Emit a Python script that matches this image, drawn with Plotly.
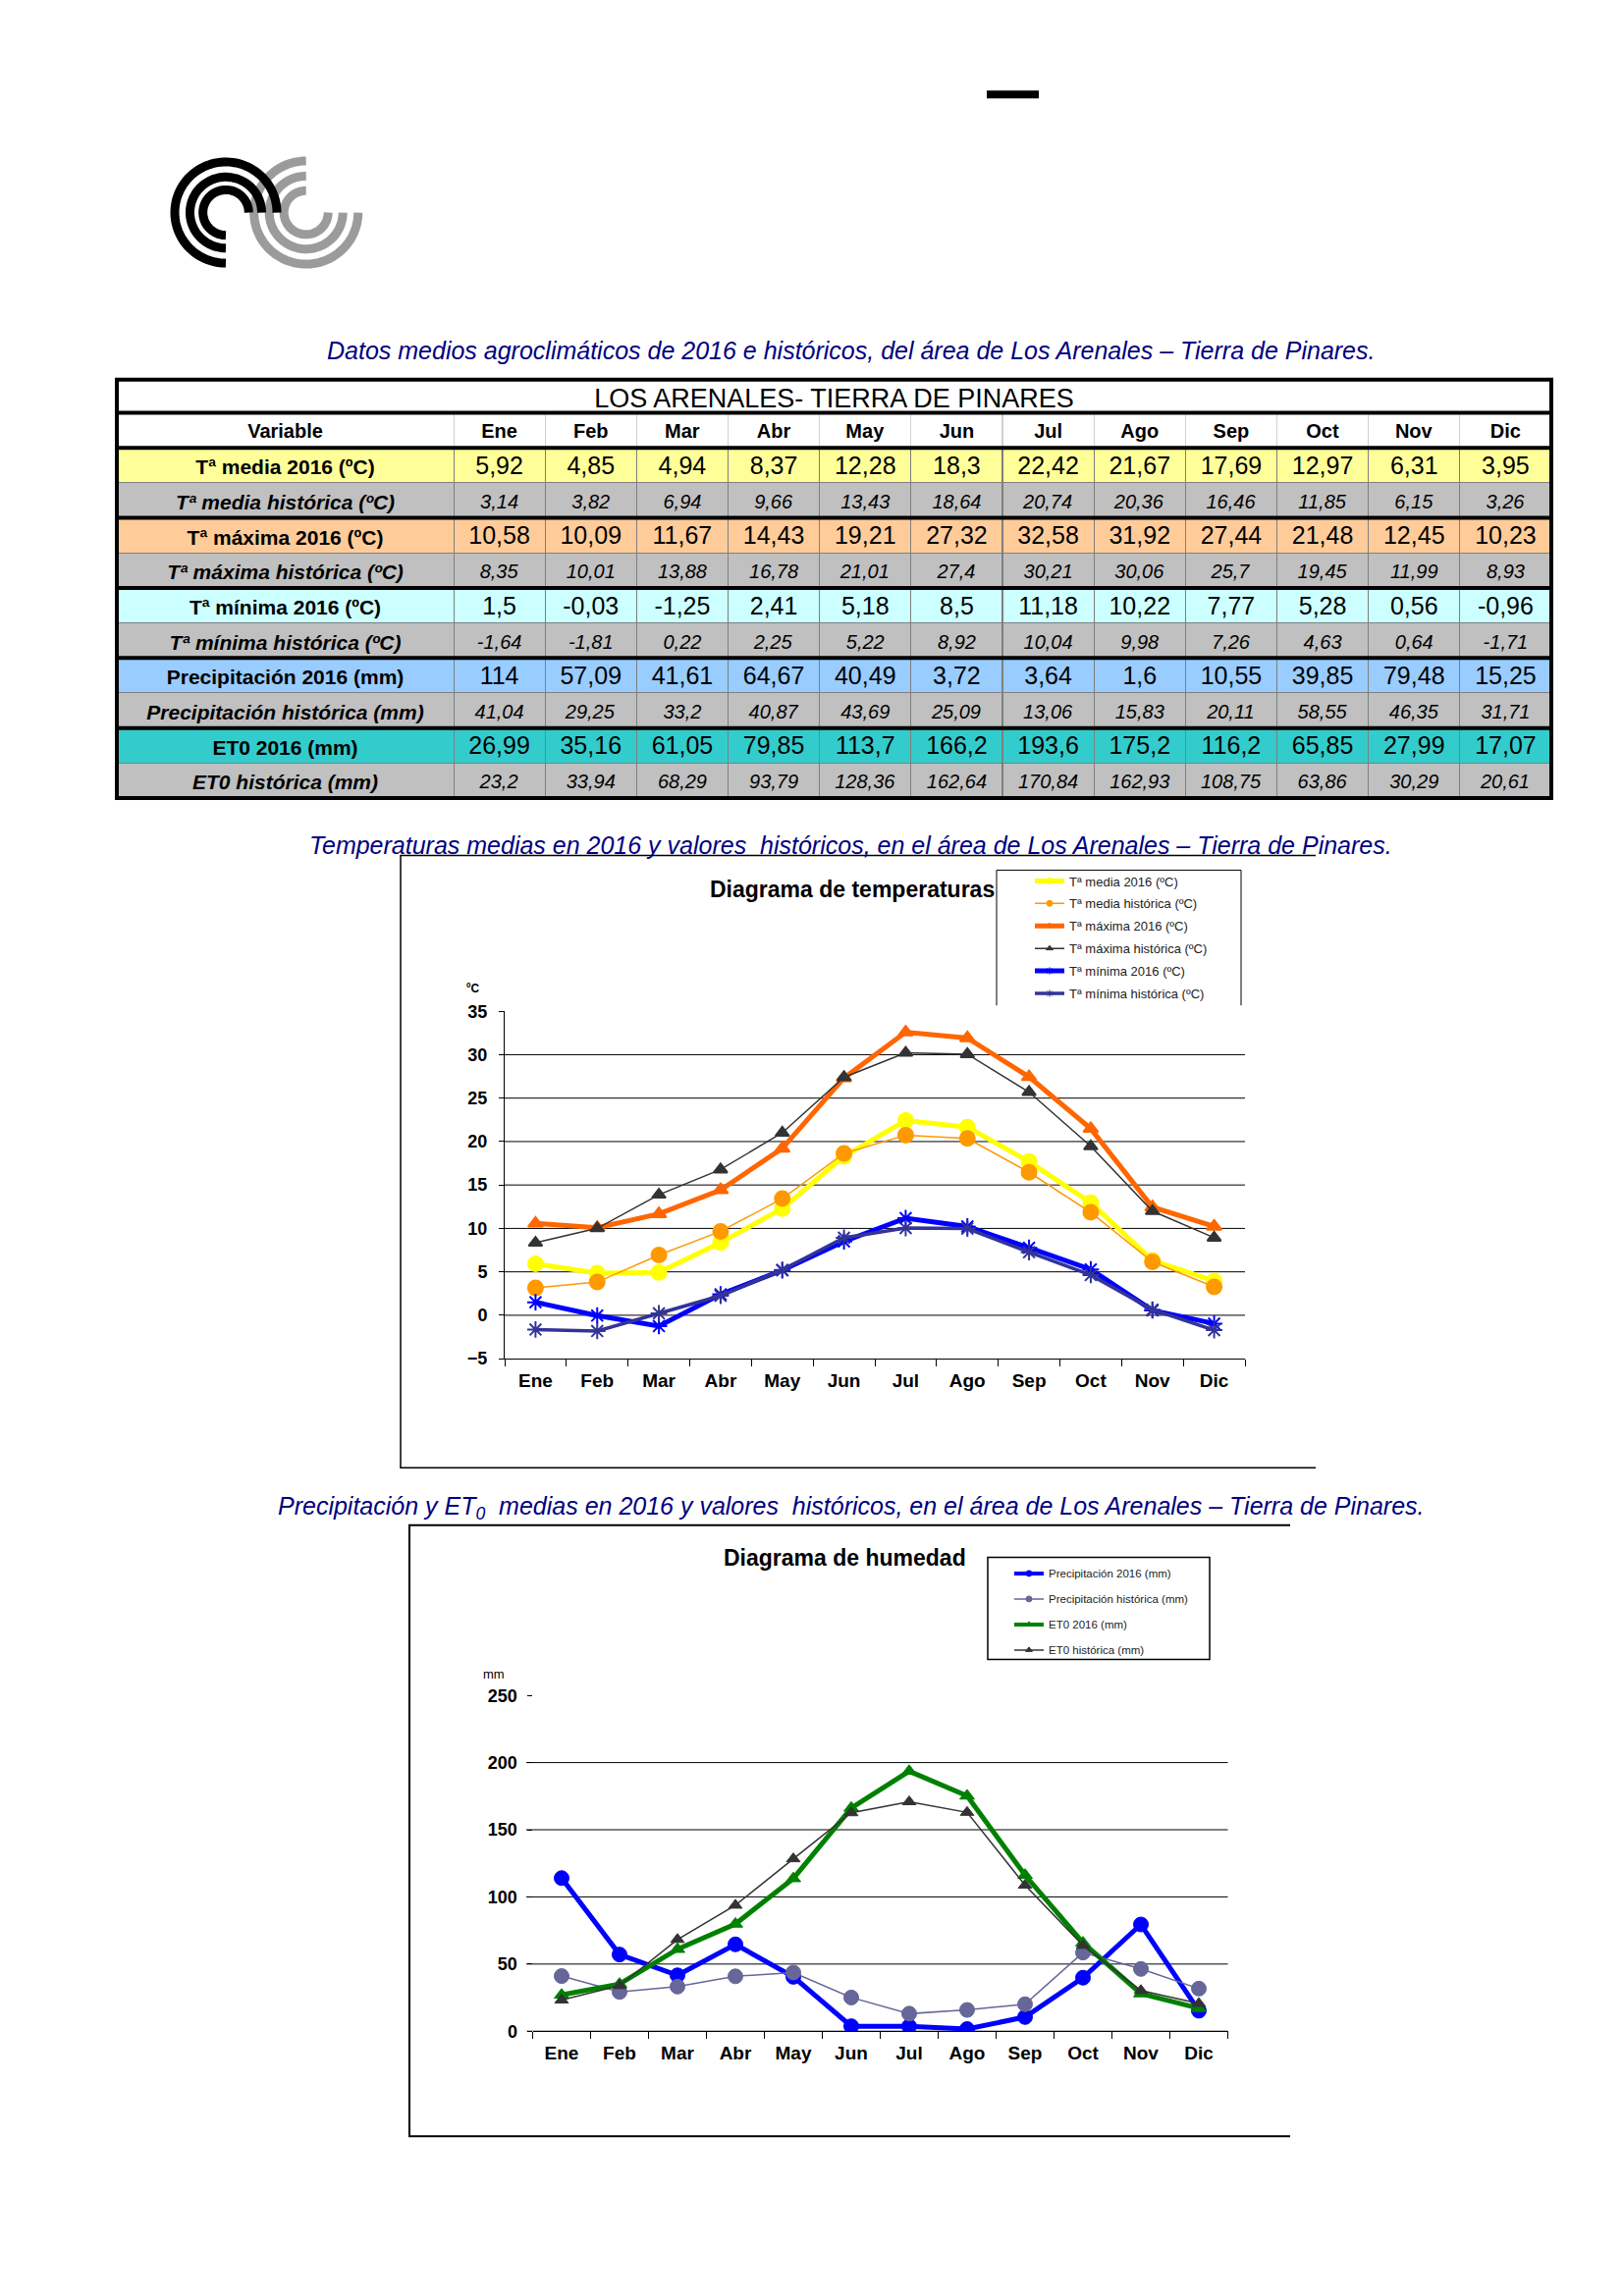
import numpy as np
import plotly.graph_objects as go

W, H = 1653, 2339
FONT = "Liberation Sans, Arial, sans-serif"

# ---------------- data ----------------
months = ["Ene", "Feb", "Mar", "Abr", "May", "Jun", "Jul", "Ago", "Sep", "Oct", "Nov", "Dic"]

t_media_2016 = [5.92, 4.85, 4.94, 8.37, 12.28, 18.3, 22.42, 21.67, 17.69, 12.97, 6.31, 3.95]
t_media_hist = [3.14, 3.82, 6.94, 9.66, 13.43, 18.64, 20.74, 20.36, 16.46, 11.85, 6.15, 3.26]
t_max_2016 = [10.58, 10.09, 11.67, 14.43, 19.21, 27.32, 32.58, 31.92, 27.44, 21.48, 12.45, 10.23]
t_max_hist = [8.35, 10.01, 13.88, 16.78, 21.01, 27.4, 30.21, 30.06, 25.7, 19.45, 11.99, 8.93]
t_min_2016 = [1.5, -0.03, -1.25, 2.41, 5.18, 8.5, 11.18, 10.22, 7.77, 5.28, 0.56, -0.96]
t_min_hist = [-1.64, -1.81, 0.22, 2.25, 5.22, 8.92, 10.04, 9.98, 7.26, 4.63, 0.64, -1.71]
prec_2016 = [114, 57.09, 41.61, 64.67, 40.49, 3.72, 3.64, 1.6, 10.55, 39.85, 79.48, 15.25]
prec_hist = [41.04, 29.25, 33.2, 40.87, 43.69, 25.09, 13.06, 15.83, 20.11, 58.55, 46.35, 31.71]
eto_2016 = [26.99, 35.16, 61.05, 79.85, 113.7, 166.2, 193.6, 175.2, 116.2, 65.85, 27.99, 17.07]
eto_hist = [23.2, 33.94, 68.29, 93.79, 128.36, 162.64, 170.84, 162.93, 108.75, 63.86, 30.29, 20.61]

table_title = "LOS ARENALES- TIERRA DE PINARES"
row_labels = ["Tª media 2016 (ºC)", "Tª media histórica (ºC)",
              "Tª máxima 2016 (ºC)", "Tª máxima histórica (ºC)",
              "Tª mínima 2016 (ºC)", "Tª mínima histórica (ºC)",
              "Precipitación 2016 (mm)", "Precipitación histórica (mm)",
              "ET0 2016 (mm)", "ET0 histórica (mm)"]
row_series = [t_media_2016, t_media_hist, t_max_2016, t_max_hist, t_min_2016,
              t_min_hist, prec_2016, prec_hist, eto_2016, eto_hist]
row_is_hist = [False, True] * 5
row_fills = ["#FFFF99", "#C0C0C0", "#FFCC99", "#C0C0C0", "#CCFFFF",
             "#C0C0C0", "#99CCFF", "#C0C0C0", "#33CCCC", "#C0C0C0"]

temp_names = ["Tª media 2016 (ºC)", "Tª media histórica (ºC)", "Tª máxima 2016 (ºC)",
              "Tª máxima histórica (ºC)", "Tª mínima 2016 (ºC)", "Tª mínima histórica (ºC)"]
hum_names = ["Precipitación 2016 (mm)", "Precipitación histórica (mm)",
             "ET0 2016 (mm)", "ET0 histórica (mm)"]
temp_ticks = [-5, 0, 5, 10, 15, 20, 25, 30, 35]
temp_grid = [0, 5, 10, 15, 20, 25, 30]
hum_ticks = [0, 50, 100, 150, 200, 250]
hum_grid = [0, 50, 100, 150, 200]

caption1 = "Datos medios agroclimáticos de 2016 e históricos, del área de Los Arenales – Tierra de Pinares."
caption2 = "Temperaturas medias en 2016 y valores  históricos, en el área de Los Arenales – Tierra de Pinares."
caption3 = "Precipitación y ET<sub>0</sub>  medias en 2016 y valores  históricos, en el área de Los Arenales – Tierra de Pinares."


def px(x):
    return x / W


def py(y):
    return 1 - y / H


def fmt(v):
    return f"{v:g}".replace(".", ",")


fig = go.Figure()

# ---------------- table ----------------
TAB_L, TAB_R = 119, 1580
TAB_TOP, TITLE_H, ROW_H = 380, 34, 36
HEAD_TOP = TAB_TOP + TITLE_H
first_w = 343
month_w = (TAB_R - TAB_L - first_w) / 12
col_widths = [first_w] + [month_w] * 12


def table_band(top, height, values, fill, sizes, line_color):
    return go.Table(
        domain=dict(x=[px(TAB_L), px(TAB_R)], y=[py(top + height + 2), py(top)]),
        columnwidth=col_widths[:len(values)] if len(values) > 1 else None,
        header=dict(values=values, height=height, fill_color=fill,
                    line=dict(color=line_color, width=1),
                    font=dict(family=FONT, size=sizes, color="black"), align="center"),
        cells=dict(values=[[] for _ in values], height=1),
    )


fig.add_trace(table_band(TAB_TOP, TITLE_H, [table_title], "white", 27, "black"))
fig.add_trace(table_band(HEAD_TOP, ROW_H, ["<b>Variable</b>"] + [f"<b>{m}</b>" for m in months],
                         "white", [20] * 13, "#D0D0D0"))
for i, (lab, s, hist, fill) in enumerate(zip(row_labels, row_series, row_is_hist, row_fills)):
    if hist:
        vals = [f"<b><i>{lab}</i></b>"] + [f"<i>{fmt(v)}</i>" for v in s]
        sizes = [21] + [20] * 12
    else:
        vals = [f"<b>{lab}</b>"] + [fmt(v) for v in s]
        sizes = [21] + [25] * 12
    fig.add_trace(table_band(HEAD_TOP + ROW_H * (i + 1), ROW_H, vals, fill, sizes, "#7F7F7F"))

shapes = []
# thick table borders
thick_rows = [TAB_TOP, HEAD_TOP, HEAD_TOP + ROW_H] + [HEAD_TOP + ROW_H * k for k in (3, 5, 7, 9, 11)]
for yy in thick_rows:
    shapes.append(dict(type="line", xref="paper", yref="paper", x0=px(TAB_L - 2), x1=px(TAB_R + 2),
                       y0=py(yy), y1=py(yy), line=dict(color="black", width=4)))
for xx in (TAB_L, TAB_R):
    shapes.append(dict(type="line", xref="paper", yref="paper", x0=px(xx), x1=px(xx),
                       y0=py(TAB_TOP), y1=py(HEAD_TOP + ROW_H * 11), line=dict(color="black", width=4)))

# ---------------- temperature chart ----------------
temp_series = [t_media_2016, t_media_hist, t_max_2016, t_max_hist, t_min_2016, t_min_hist]
temp_styles = [
    dict(color="#FFFF00", width=5, symbol="circle", size=15),
    dict(color="#FF9900", width=1.5, symbol="circle", size=15),
    dict(color="#FF6600", width=5, symbol="triangle-up", size=13),
    dict(color="#333333", width=1.5, symbol="triangle-up", size=12),
    dict(color="#0000FF", width=5, symbol="asterisk-open", size=14),
    dict(color="#333399", width=3.5, symbol="asterisk-open", size=14),
]
for name, s, st in zip(temp_names, temp_series, temp_styles):
    mk = dict(symbol=st["symbol"], size=st["size"], color=st["color"],
              line=dict(color=st["color"], width=2))
    fig.add_trace(go.Scatter(x=months, y=s, mode="lines+markers", name=name, showlegend=False,
                             line=dict(color=st["color"], width=st["width"]), marker=mk,
                             xaxis="x", yaxis="y"))
for name, st in zip(temp_names, temp_styles):
    mk = dict(symbol=st["symbol"], size=6, color=st["color"], line=dict(color=st["color"], width=1))
    fig.add_trace(go.Scatter(x=[None], y=[None], mode="lines+markers", name=name, legend="legend",
                             legendgroup=name, line=dict(color=st["color"], width=st["width"]),
                             marker=mk, xaxis="x", yaxis="y"))

# ---------------- humidity chart ----------------
hum_series = [prec_2016, prec_hist, eto_2016, eto_hist]
hum_styles = [
    dict(color="#0000FF", width=5, symbol="circle", size=15),
    dict(color="#666699", width=1.5, symbol="circle", size=15),
    dict(color="#008000", width=5, symbol="triangle-up", size=13),
    dict(color="#333333", width=1.5, symbol="triangle-up", size=12),
]
for name, s, st in zip(hum_names, hum_series, hum_styles):
    mk = dict(symbol=st["symbol"], size=st["size"], color=st["color"],
              line=dict(color=st["color"], width=1))
    fig.add_trace(go.Scatter(x=months, y=s, mode="lines+markers", name=name, showlegend=False,
                             line=dict(color=st["color"], width=st["width"]), marker=mk,
                             xaxis="x2", yaxis="y2"))
for name, st in zip(hum_names, hum_styles):
    mk = dict(symbol=st["symbol"], size=6, color=st["color"], line=dict(color=st["color"], width=1))
    fig.add_trace(go.Scatter(x=[None], y=[None], mode="lines+markers", name=name, legend="legend2",
                             legendgroup=name, line=dict(color=st["color"], width=min(st["width"], 4)),
                             marker=mk, xaxis="x2", yaxis="y2"))

# gridlines
HX0, HX1 = 542.5, 1250.5
for v in temp_grid:
    shapes.append(dict(type="line", xref="x domain", yref="y", x0=0, x1=1, y0=v, y1=v,
                       line=dict(color="black", width=1), layer="below"))
for v in hum_grid:
    shapes.append(dict(type="line", xref="x2 domain", yref="y2",
                       x0=(536 - HX0) / (HX1 - HX0), x1=1, y0=v, y1=v,
                       line=dict(color="black", width=1), layer="below"))


def frame(l, t, r, b, w=1):
    path = f"M{px(r)},{py(t)} L{px(l)},{py(t)} L{px(l)},{py(b)} L{px(r)},{py(b)}"
    return dict(type="path", xref="paper", yref="paper", path=path, line=dict(color="black", width=w))


shapes.append(frame(408, 869, 1340, 1498, 1.5))
shapes.append(frame(417, 1557, 1314, 2185, 2))
# legend boxes
shapes.append(dict(type="path", xref="paper", yref="paper",
                   path=f"M{px(1015)},{py(1023)} L{px(1015)},{py(884)} L{px(1264)},{py(884)} L{px(1264)},{py(1023)}",
                   line=dict(color="black", width=1)))
shapes.append(dict(type="rect", xref="paper", yref="paper", x0=px(1006), x1=px(1232),
                   y0=py(1695), y1=py(1590), line=dict(color="black", width=1.5)))


# logo (decorative concentric arcs)
def arc_path(cx, cy, r, a0, a1):
    th = np.radians(np.linspace(a0, a1, 80))
    xs = cx + r * np.cos(th)
    ys = cy - r * np.sin(th)
    pts = [f"{px(x):.5f},{py(y):.5f}" for x, y in zip(xs, ys)]
    return "M" + " L".join(pts)


for r in (53, 37.5, 22.5):
    shapes.append(dict(type="path", xref="paper", yref="paper", path=arc_path(311.7, 208.3, r, 90, 360),
                       line=dict(color="#9B9B9B", width=9)))
for r in (52, 36.5, 23.3):
    shapes.append(dict(type="path", xref="paper", yref="paper", path=arc_path(230, 208.3, r, 0, 270),
                       line=dict(color="black", width=9)))
# top dash
shapes.append(dict(type="rect", xref="paper", yref="paper", x0=px(1005), x1=px(1058),
                   y0=py(91), y1=py(83), fillcolor="black", line=dict(width=0)))

annotations = []
cap_font = dict(family=FONT, size=25, color="#000080")
for txt, yy in ((caption1, 350), (caption2, 858), (caption3, 1539)):
    annotations.append(dict(text=f"<i>{txt}</i>", x=px(867), y=py(yy), xref="paper", yref="paper",
                            showarrow=False, xanchor="center", yanchor="middle", font=cap_font))
annotations.append(dict(text="<b>Diagrama de temperaturas</b>", x=px(868), y=py(904), xref="paper",
                        yref="paper", showarrow=False, xanchor="center", yanchor="middle",
                        font=dict(family=FONT, size=23, color="black")))
annotations.append(dict(text="<b>Diagrama de humedad</b>", x=px(860), y=py(1591), xref="paper",
                        yref="paper", showarrow=False, xanchor="center", yanchor="middle",
                        font=dict(family=FONT, size=23, color="black")))
annotations.append(dict(text="<b>ºC</b>", x=px(481), y=py(1006), xref="paper", yref="paper",
                        showarrow=False, xanchor="center", yanchor="middle",
                        font=dict(family=FONT, size=12, color="black")))
annotations.append(dict(text="mm", x=px(503), y=py(1710), xref="paper", yref="paper",
                        showarrow=False, xanchor="center", yanchor="middle",
                        font=dict(family=FONT, size=13, color="black")))

xtick_font = dict(family=FONT, size=19, color="black", weight="bold")
ytick_font = dict(family=FONT, size=18, color="black", weight="bold")

fig.update_layout(
    width=W, height=H, margin=dict(l=0, r=0, t=0, b=0),
    paper_bgcolor="white", plot_bgcolor="white",
    shapes=shapes, annotations=annotations,
    xaxis=dict(domain=[px(514), px(1268)], anchor="y", type="category", categoryorder="array",
               categoryarray=months, range=[-0.5, 11.5], showline=True, linecolor="black",
               linewidth=1, ticks="outside", tickson="boundaries", ticklen=7, tickcolor="black",
               tickfont=xtick_font, showgrid=False, ticklabelstandoff=5),
    yaxis=dict(domain=[py(1386), py(1029)], anchor="x", range=[-5, 35], tickvals=temp_ticks,
               showline=True, linecolor="black", linewidth=1, ticks="outside", ticklen=5,
               tickcolor="black", tickfont=ytick_font, showgrid=False, zeroline=False,
               ticklabelstandoff=8),
    xaxis2=dict(domain=[px(HX0), px(HX1)], anchor="y2", type="category", categoryorder="array",
                categoryarray=months, range=[-0.5, 11.5], showline=True, linecolor="black",
                linewidth=1, ticks="outside", tickson="boundaries", ticklen=7, tickcolor="black",
                tickfont=xtick_font, showgrid=False, ticklabelstandoff=5),
    yaxis2=dict(domain=[py(2077), py(1732)], anchor="x2", range=[0, 250], tickvals=hum_ticks,
                showline=False, ticks="outside", ticklen=5, tickcolor="black", tickfont=ytick_font,
                showgrid=False, zeroline=False, ticklabelstandoff=6),
    legend=dict(x=px(1049), y=py(880), xanchor="left", yanchor="top", bgcolor="rgba(0,0,0,0)",
                borderwidth=0, font=dict(family=FONT, size=13, color="#222222"), itemwidth=30,
                tracegroupgap=3, traceorder="grouped"),
    legend2=dict(x=px(1028), y=py(1592), xanchor="left", yanchor="top", bgcolor="rgba(0,0,0,0)",
                 borderwidth=0, font=dict(family=FONT, size=11.5, color="#222222"), itemwidth=30,
                 tracegroupgap=7, traceorder="grouped"),
)

fig.write_html("out.html", config={"displayModeBar": False},
               post_script="document.body.style.margin='0';document.body.style.overflow='hidden';")
